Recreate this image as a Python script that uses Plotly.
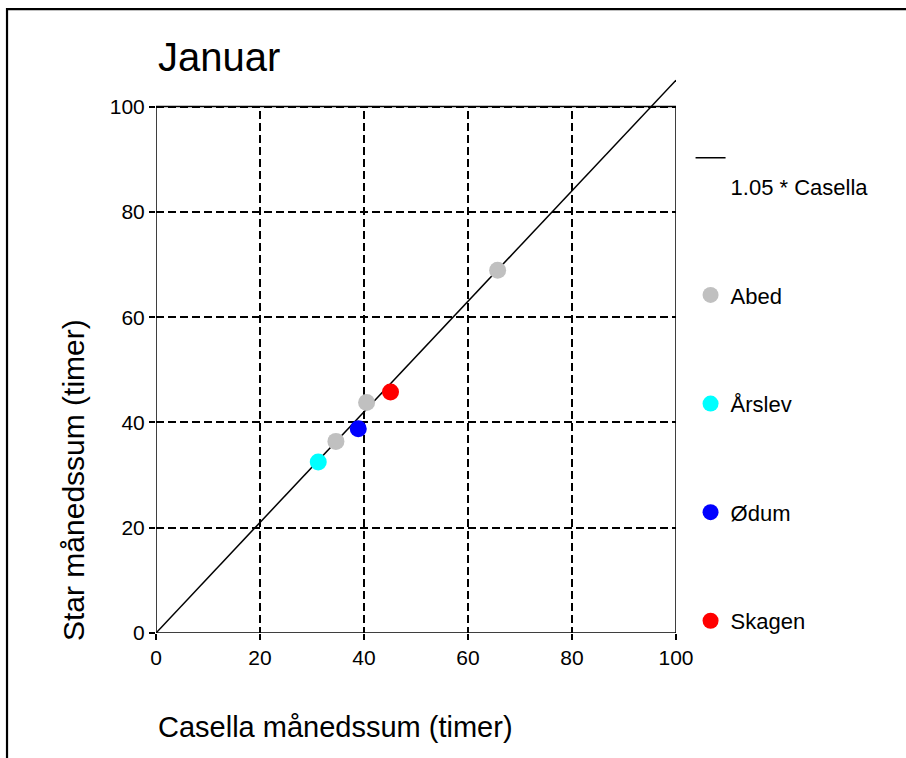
import plotly.graph_objects as go

# Data
stations = ["Abed", "Årslev", "Ødum", "Skagen"]
colors = ["#C0C0C0", "#00FFFF", "#0000FF", "#FF0000"]
casella = {
    "Abed": [65.7, 40.5, 34.6],
    "Årslev": [31.2],
    "Ødum": [38.9],
    "Skagen": [45.1],
}
star = {
    "Abed": [68.9, 43.8, 36.4],
    "Årslev": [32.5],
    "Ødum": [38.8],
    "Skagen": [45.8],
}
line_factor = 1.05
line_x = [0, 100]
line_y = [line_factor * v for v in line_x]
tick_vals = [0, 20, 40, 60, 80, 100]

FONT = "Liberation Sans, Arial, sans-serif"

fig = go.Figure()
fig.add_trace(go.Scatter(
    x=line_x, y=line_y, mode="lines",
    line=dict(color="black", width=1.5),
    name="&nbsp;<br>1.05 * Casella", legendgroup="line",
))
for s, c in zip(stations, colors):
    fig.add_trace(go.Scatter(
        x=casella[s], y=star[s], mode="markers",
        marker=dict(color=c, size=17, line=dict(width=0)),
        name=s, legendgroup=s,
    ))

fig.update_layout(
    width=906, height=758,
    margin=dict(l=156, r=230, t=75, b=125),
    paper_bgcolor="white", plot_bgcolor="white",
    font=dict(family=FONT, size=21, color="black"),
    showlegend=True,
    legend=dict(
        x=1.028, xanchor="left", y=0.889, yanchor="top",
        font=dict(size=22), valign="top",
        tracegroupgap=77, bgcolor="rgba(0,0,0,0)",
    ),
    xaxis=dict(
        range=[0, 100], tickvals=tick_vals, showline=False, zeroline=False,
        showgrid=True, gridcolor="black", gridwidth=1.5, griddash="8px,4px",
        ticks="outside", ticklen=6, tickwidth=1.5, tickcolor="black",
        tickfont=dict(size=21),
    ),
    yaxis=dict(
        range=[0, 106], tickvals=tick_vals, showline=False, zeroline=False,
        showgrid=True, gridcolor="black", gridwidth=1.5, griddash="8px,4px",
        ticks="outside", ticklen=6, tickwidth=1.5, tickcolor="black",
        tickfont=dict(size=21),
    ),
    shapes=[
        dict(type="rect", xref="x", yref="y", x0=-2, x1=102, y0=100, y1=110,
             fillcolor="white", line=dict(width=0), layer="between"),
        dict(type="rect", xref="x", yref="y", x0=0, x1=100, y0=0, y1=100,
             line=dict(color="black", width=1.5), layer="above"),
        dict(type="rect", xref="paper", yref="paper", x0=-0.2865, x1=1.7,
             y0=-0.5, y1=1.118, line=dict(color="black", width=2.2)),
    ],
    annotations=[
        dict(text="Januar", xref="paper", yref="paper", x=0, y=(633 - 57) / 558,
             xanchor="left", yanchor="middle", showarrow=False,
             font=dict(size=40, family=FONT)),
        dict(text="Casella månedssum (timer)", xref="paper", yref="paper",
             x=0, y=(633 - 727) / 558, xanchor="left", yanchor="middle",
             showarrow=False, font=dict(size=29, family=FONT)),
        dict(text="Star månedssum (timer)", xref="paper", yref="paper",
             x=(73 - 156) / 520, y=(633 - 480) / 558, xanchor="center",
             yanchor="middle", textangle=-90, showarrow=False,
             font=dict(size=30, family=FONT)),
    ],
)

fig.write_html("out.html")
